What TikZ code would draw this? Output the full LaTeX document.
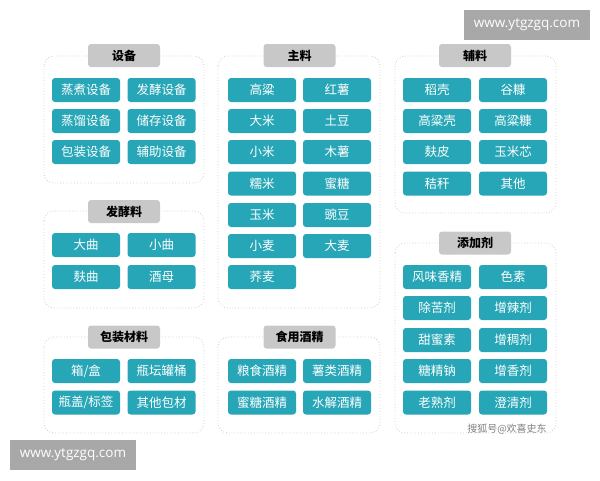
\documentclass[tikz,border=0pt]{standalone}
\usepackage{fontspec}
\setmainfont{DejaVu Sans}
\newfontfamily\cjk{Noto Sans CJK SC}
\newfontfamily\wmfont{Open Sans}
\usepackage{tikz}

\definecolor{tealcell}{RGB}{38,166,182}
\definecolor{tabgray}{RGB}{200,200,200}
\definecolor{framegray}{RGB}{205,205,205}
\definecolor{wmgray}{RGB}{168,168,168}

\tikzset{
  cell/.style={fill=tealcell, rounded corners=3pt, minimum width=68pt, minimum height=24pt,
    inner sep=0pt, text=white, font=\cjk\fontsize{12.5}{12.5}\selectfont},
  tab/.style={fill=tabgray, rounded corners=3pt, minimum width=72pt, minimum height=23pt,
    inner sep=0pt, text=black, font=\cjk\bfseries\fontsize{12}{12}\selectfont},
  frame/.style={draw=framegray, dotted, line width=0.8pt, rounded corners=10pt},
  wmark/.style={fill=wmgray, minimum width=126pt, minimum height=30pt, inner sep=0pt,
    text=white, font=\wmfont\fontsize{13.5}{13.5}\selectfont}
}

\begin{document}
\begin{tikzpicture}[x=1pt,y=-1pt]
\useasboundingbox (0,0) rectangle (600,480);

% Marcos de los grupos
\draw[frame] (44,56) rectangle (204,183);
\draw[frame] (218,56) rectangle (380,308);
\draw[frame] (395,56) rectangle (556,213);
\draw[frame] (44,211) rectangle (204,308);
\draw[frame] (44,337) rectangle (204,433);
\draw[frame] (218,337) rectangle (380,433);
\draw[frame] (395,243) rectangle (556,433);

% 设备
\node[tab] (shebei) at (124,55.5) {设备};
\node[cell] (sb1) at (86,90) {蒸煮设备};
\node[cell] (sb2) at (161.5,90) {发酵设备};
\node[cell] (sb3) at (86,121) {蒸馏设备};
\node[cell] (sb4) at (161.5,121) {储存设备};
\node[cell] (sb5) at (86,152) {包装设备};
\node[cell] (sb6) at (161.5,152) {辅助设备};

% 主料
\node[tab] (zhuliao) at (299.5,55.5) {主料};
\node[cell] (zl1) at (262,90) {高粱};
\node[cell] (zl2) at (337,90) {红薯};
\node[cell] (zl3) at (262,121) {大米};
\node[cell] (zl4) at (337,121) {土豆};
\node[cell] (zl5) at (262,152) {小米};
\node[cell] (zl6) at (337,152) {木薯};
\node[cell] (zl7) at (262,183.5) {糯米};
\node[cell] (zl8) at (337,183.5) {蜜糖};
\node[cell] (zl9) at (262,215) {玉米};
\node[cell] (zl10) at (337,215) {豌豆};
\node[cell] (zl11) at (262,246) {小麦};
\node[cell] (zl12) at (337,246) {大麦};
\node[cell] (zl13) at (262,277) {荞麦};

% 辅料
\node[tab] (fuliao) at (475,55.5) {辅料};
\node[cell] (fl1) at (437,90) {稻壳};
\node[cell] (fl2) at (513,90) {谷糠};
\node[cell] (fl3) at (437,121) {高粱壳};
\node[cell] (fl4) at (513,121) {高粱糠};
\node[cell] (fl5) at (437,152) {麸皮};
\node[cell] (fl6) at (513,152) {玉米芯};
\node[cell] (fl7) at (437,183.5) {秸秆};
\node[cell] (fl8) at (513,183.5) {其他};

% 发酵料
\node[tab] (fajiao) at (124,211.5) {发酵料};
\node[cell] (fj1) at (86,245) {大曲};
\node[cell] (fj2) at (161.5,245) {小曲};
\node[cell] (fj3) at (86,277) {麸曲};
\node[cell] (fj4) at (161.5,277) {酒母};

% 包装材料
\node[tab] (baozhuang) at (124,337) {包装材料};
\node[cell] (bz1) at (86,371) {箱/盒};
\node[cell] (bz2) at (161.5,371) {瓶坛罐桶};
\node[cell] (bz3) at (86,402.5) {瓶盖/标签};
\node[cell] (bz4) at (161.5,402.5) {其他包材};

% 食用酒精
\node[tab] (jiujing) at (299.5,337) {食用酒精};
\node[cell] (jj1) at (262,371) {粮食酒精};
\node[cell] (jj2) at (337,371) {薯类酒精};
\node[cell] (jj3) at (262,402.5) {蜜糖酒精};
\node[cell] (jj4) at (337,402.5) {水解酒精};

% 添加剂
\node[tab] (tianjia) at (475,243) {添加剂};
\node[cell] (tj1) at (437,277) {风味香精};
\node[cell] (tj2) at (513,277) {色素};
\node[cell] (tj3) at (437,308) {除苦剂};
\node[cell] (tj4) at (513,308) {增辣剂};
\node[cell] (tj5) at (437,340) {甜蜜素};
\node[cell] (tj6) at (513,340) {增稠剂};
\node[cell] (tj7) at (437,371) {糖精钠};
\node[cell] (tj8) at (513,371) {增香剂};
\node[cell] (tj9) at (437,402.5) {老熟剂};
\node[cell] (tj10) at (513,402.5) {澄清剂};

% Marcas de agua
\node[wmark] (wm1) at (527,25) {www.ytgzgq.com};
\node[wmark] (wm2) at (73,455) {www.ytgzgq.com};
\node[text=gray, font=\cjk\fontsize{10}{10}\selectfont] (fuente) at (507,429) {搜狐号@欢喜史东};
\end{tikzpicture}
\end{document}
